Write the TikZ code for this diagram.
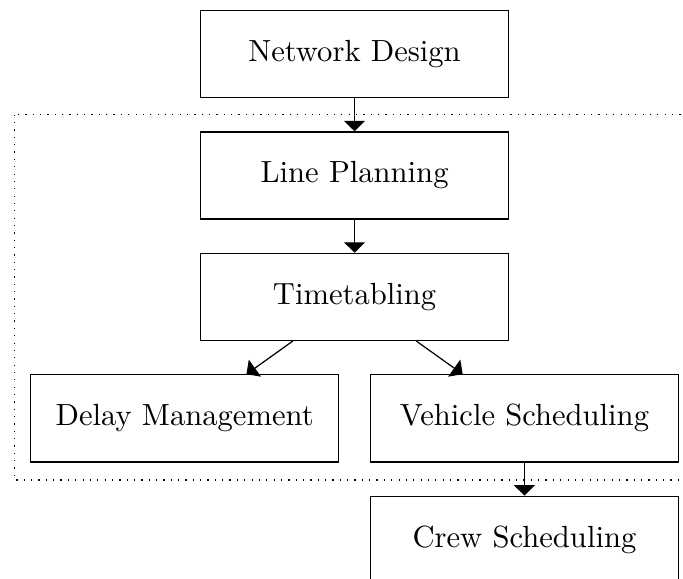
\documentclass[tikz,border=0pt]{standalone}
\usepackage{tikz}
\usetikzlibrary{positioning,calc,arrows.meta}

\begin{document}
\begin{tikzpicture}[
                    stage/.style={draw=black,minimum width=3.54cm,minimum height=1cm},
                    flow/.style={-{Triangle[length=3.4pt,width=6.8pt]}},
                    node distance=0.38cm
                    ]
                    \useasboundingbox (-4.07,0.62) rectangle (3.77,-6.02);
                    \node[stage] (nd) at (0,0) {Network Design};
                    \node[stage,below=of nd] (lp) {Line Planning};
                    \node[stage,below=of lp] (tt) {Timetabling};
                    \node[stage,below=of tt,xshift=-1.95cm] (dm) {Delay Management};
                    \node[stage,below=of tt,xshift=1.95cm] (vs) {Vehicle Scheduling};
                    \node[stage,below=of vs] (cs) {Crew Scheduling};
                    \draw[dotted] ($(dm.west |- lp.north)+(-0.18,0.19)$) rectangle ($(vs.south east)+(0.18,-0.2)$);
                    \foreach \a/\b in {nd/lp,lp/tt,tt/dm,tt/vs,vs/cs}{
                    \draw[flow] (\a) -- (\b);
                    }
                    \end{tikzpicture}
\end{document}
